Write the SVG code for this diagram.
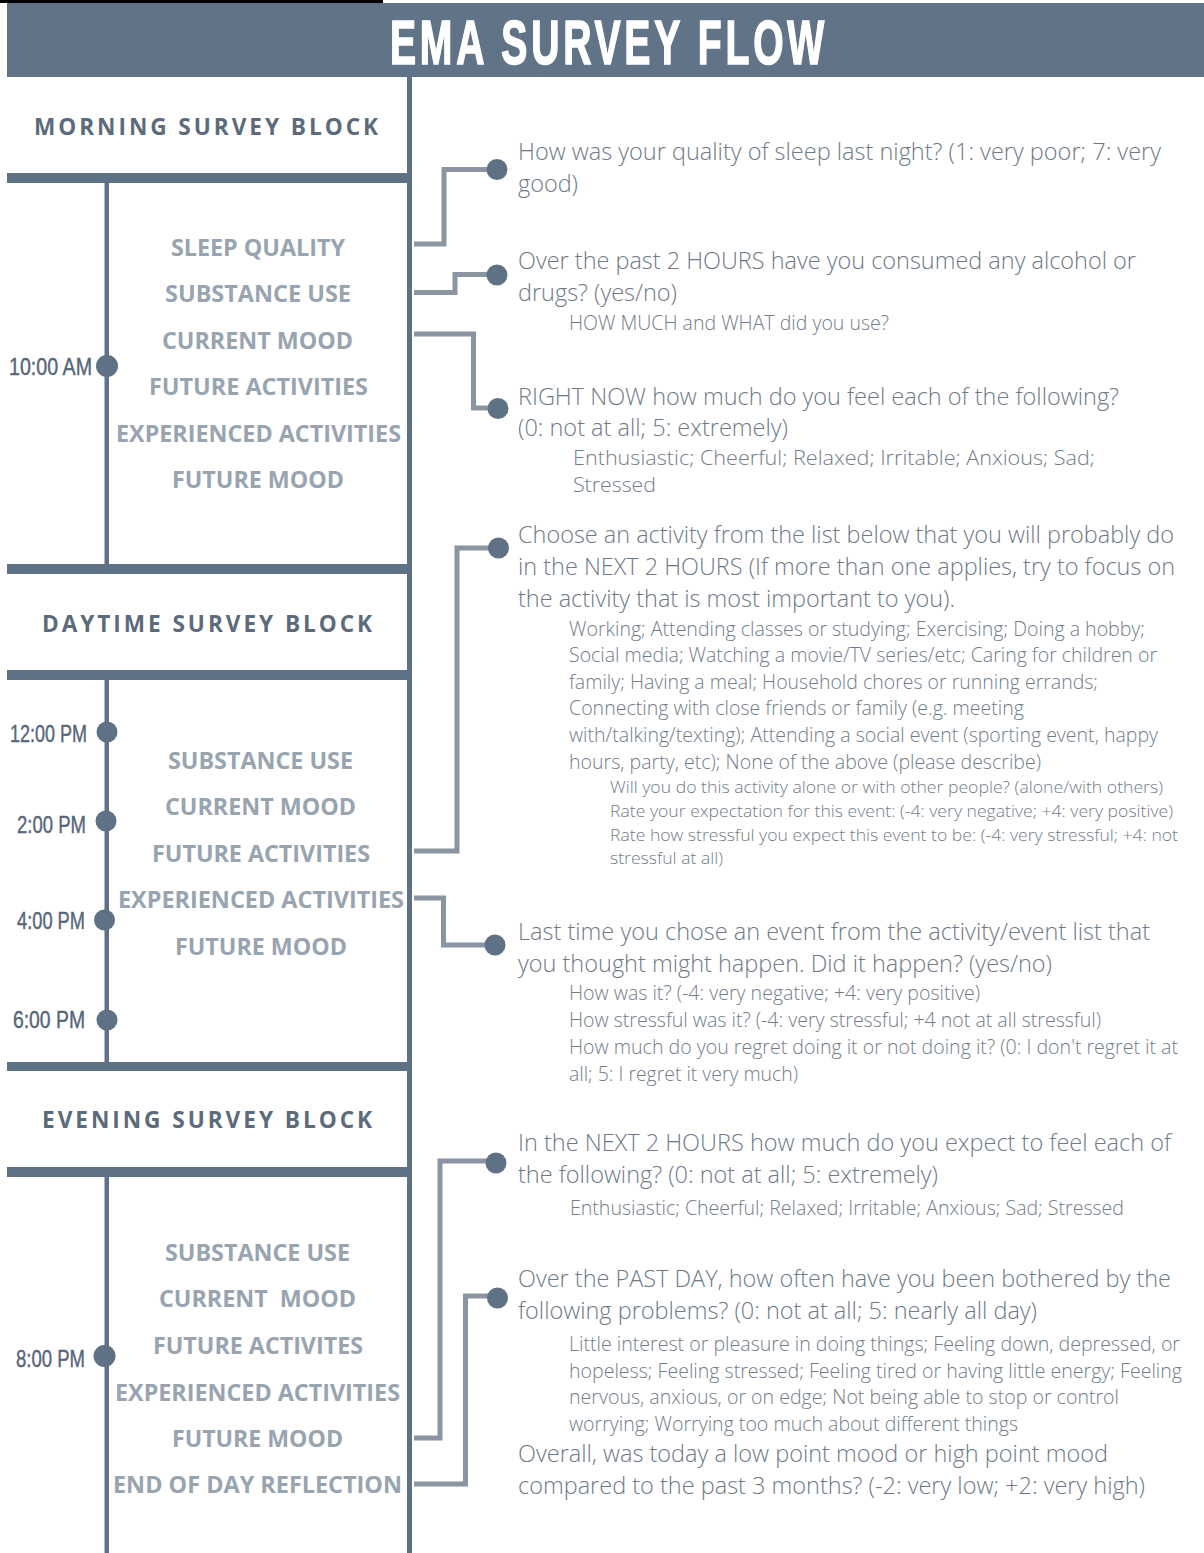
<svg xmlns="http://www.w3.org/2000/svg" width="1204" height="1553" viewBox="0 0 1204 1553">
<style>
.bar{fill:#5f7184}
.dot{fill:#5f7184}
.conn{fill:none;stroke:#8a95a1;stroke-width:5;stroke-linejoin:miter;stroke-linecap:butt}
.title{font-family:"Liberation Sans Narrow","Liberation Sans",sans-serif;font-weight:700;font-size:63px;fill:#ffffff;stroke:#ffffff;stroke-width:1.6px;letter-spacing:6px}
.blk{font-family:"Open Sans","Liberation Sans",sans-serif;font-weight:700;font-size:23px;fill:#5c6b7b;letter-spacing:3px}
.item{font-family:"Open Sans","Liberation Sans",sans-serif;font-weight:700;font-size:24px;fill:#98a4af}
.time{font-family:"Liberation Sans Narrow","Liberation Sans",sans-serif;font-size:24px;fill:#56667a;stroke:#56667a;stroke-width:0.4px}
.q{font-family:"Open Sans","Liberation Sans",sans-serif;font-weight:300;font-size:24px;fill:#6e7a86}
.s{font-family:"Open Sans","Liberation Sans",sans-serif;font-weight:300;font-size:20px;fill:#717d89}
.t{font-family:"Open Sans","Liberation Sans",sans-serif;font-weight:300;font-size:17px;fill:#717d89}
</style>
<rect width="1204" height="1553" fill="#ffffff"/>
<g id="header">
<rect x="0" y="0" width="383" height="3" fill="#000000"/>
<rect x="7" y="3" width="1197" height="74" fill="#617386"/>
<text class="title" x="390" y="64" textLength="438" lengthAdjust="spacingAndGlyphs">EMA SURVEY FLOW</text>
</g>
<g id="frame">
<rect class="bar" x="407" y="77" width="5" height="1476"/>
<rect class="bar" x="7" y="173" width="402" height="10"/>
<rect class="bar" x="7" y="564" width="402" height="10"/>
<rect class="bar" x="7" y="670" width="402" height="10"/>
<rect class="bar" x="7" y="1062" width="402" height="9"/>
<rect class="bar" x="7" y="1167" width="402" height="10"/>
<rect class="bar" x="104.5" y="183" width="4.5" height="381"/>
<rect class="bar" x="104.5" y="680" width="4.5" height="382"/>
<rect class="bar" x="104.5" y="1177" width="4.5" height="376"/>
</g>
<g id="block-morning">
<text class="blk" x="34" y="135" textLength="347" lengthAdjust="spacingAndGlyphs">MORNING SURVEY BLOCK</text>
<text class="item" x="171" y="256" textLength="174" lengthAdjust="spacingAndGlyphs">SLEEP QUALITY</text>
<text class="item" x="165" y="302" textLength="186" lengthAdjust="spacingAndGlyphs">SUBSTANCE USE</text>
<text class="item" x="162" y="349" textLength="191" lengthAdjust="spacingAndGlyphs">CURRENT MOOD</text>
<text class="item" x="149" y="395" textLength="219" lengthAdjust="spacingAndGlyphs">FUTURE ACTIVITIES</text>
<text class="item" x="116" y="442" textLength="285" lengthAdjust="spacingAndGlyphs">EXPERIENCED ACTIVITIES</text>
<text class="item" x="172" y="488" textLength="172" lengthAdjust="spacingAndGlyphs">FUTURE MOOD</text>
</g>
<g id="time-1000am">
<circle class="dot" cx="107" cy="366" r="11"/>
<text class="time" x="9" y="375" textLength="83" lengthAdjust="spacingAndGlyphs">10:00 AM</text>
</g>
<g id="block-daytime">
<text class="blk" x="42" y="632" textLength="333" lengthAdjust="spacingAndGlyphs">DAYTIME SURVEY BLOCK</text>
<text class="item" x="168" y="769" textLength="185" lengthAdjust="spacingAndGlyphs">SUBSTANCE USE</text>
<text class="item" x="165" y="815" textLength="191" lengthAdjust="spacingAndGlyphs">CURRENT MOOD</text>
<text class="item" x="152" y="862" textLength="218" lengthAdjust="spacingAndGlyphs">FUTURE ACTIVITIES</text>
<text class="item" x="118" y="908" textLength="286" lengthAdjust="spacingAndGlyphs">EXPERIENCED ACTIVITIES</text>
<text class="item" x="175" y="955" textLength="172" lengthAdjust="spacingAndGlyphs">FUTURE MOOD</text>
</g>
<g id="time-1200pm">
<circle class="dot" cx="107" cy="732" r="10.5"/>
<text class="time" x="10" y="742" textLength="77" lengthAdjust="spacingAndGlyphs">12:00 PM</text>
</g>
<g id="time-200pm">
<circle class="dot" cx="106" cy="821" r="10.5"/>
<text class="time" x="17" y="833" textLength="69" lengthAdjust="spacingAndGlyphs">2:00 PM</text>
</g>
<g id="time-400pm">
<circle class="dot" cx="104.5" cy="920" r="10.5"/>
<text class="time" x="17" y="929" textLength="68" lengthAdjust="spacingAndGlyphs">4:00 PM</text>
</g>
<g id="time-600pm">
<circle class="dot" cx="107" cy="1020" r="10.5"/>
<text class="time" x="13" y="1028" textLength="72" lengthAdjust="spacingAndGlyphs">6:00 PM</text>
</g>
<g id="block-evening">
<text class="blk" x="42" y="1128" textLength="333" lengthAdjust="spacingAndGlyphs">EVENING SURVEY BLOCK</text>
<text class="item" x="165" y="1261" textLength="185" lengthAdjust="spacingAndGlyphs">SUBSTANCE USE</text>
<text class="item" x="159" y="1307" textLength="197" lengthAdjust="spacingAndGlyphs" xml:space="preserve">CURRENT  MOOD</text>
<text class="item" x="153" y="1354" textLength="210" lengthAdjust="spacingAndGlyphs">FUTURE ACTIVITES</text>
<text class="item" x="115" y="1401" textLength="285" lengthAdjust="spacingAndGlyphs">EXPERIENCED ACTIVITIES</text>
<text class="item" x="172" y="1447" textLength="171" lengthAdjust="spacingAndGlyphs">FUTURE MOOD</text>
<text class="item" x="113" y="1493" textLength="289" lengthAdjust="spacingAndGlyphs">END OF DAY REFLECTION</text>
</g>
<g id="time-800pm">
<circle class="dot" cx="104.5" cy="1356" r="11"/>
<text class="time" x="16" y="1367" textLength="69" lengthAdjust="spacingAndGlyphs">8:00 PM</text>
</g>
<g id="connectors">
<path class="conn" d="M414,244 H444 V169.5 H497"/>
<path class="conn" d="M414,292.5 H455 V274.5 H497"/>
<path class="conn" d="M414,334 H473.5 V408 H497"/>
<path class="conn" d="M414,851 H457 V548 H498"/>
<path class="conn" d="M414,898 H443.5 V945 H495"/>
<path class="conn" d="M414,1438 H440 V1161 H496"/>
<path class="conn" d="M414,1484 H465.5 V1296 H497"/>
</g>
<g id="q-sleep">
<circle class="dot" cx="497" cy="169.5" r="10.5"/>
<text class="q" x="518" y="160" textLength="643" lengthAdjust="spacingAndGlyphs">How was your quality of sleep last night? (1: very poor; 7: very</text>
<text class="q" x="518" y="192" textLength="60" lengthAdjust="spacingAndGlyphs">good)</text>
</g>
<g id="q-substance">
<circle class="dot" cx="497" cy="275" r="10.5"/>
<text class="q" x="518" y="269" textLength="618" lengthAdjust="spacingAndGlyphs">Over the past 2 HOURS have you consumed any alcohol or</text>
<text class="q" x="518" y="301" textLength="159" lengthAdjust="spacingAndGlyphs">drugs? (yes/no)</text>
<text class="s" x="569" y="330" font-size="19" textLength="320" lengthAdjust="spacingAndGlyphs">HOW MUCH and WHAT did you use?</text>
</g>
<g id="q-mood">
<circle class="dot" cx="498" cy="408.5" r="10.5"/>
<text class="q" x="518" y="405" textLength="601" lengthAdjust="spacingAndGlyphs">RIGHT NOW how much do you feel each of the following?</text>
<text class="q" x="518" y="436" textLength="270" lengthAdjust="spacingAndGlyphs">(0: not at all; 5: extremely)</text>
<text class="s" x="573" y="465" textLength="522" lengthAdjust="spacingAndGlyphs">Enthusiastic; Cheerful; Relaxed; Irritable; Anxious; Sad;</text>
<text class="s" x="573" y="492" textLength="83" lengthAdjust="spacingAndGlyphs">Stressed</text>
</g>
<g id="q-future-activity">
<circle class="dot" cx="498.5" cy="548" r="10.5"/>
<text class="q" x="518" y="543" textLength="656" lengthAdjust="spacingAndGlyphs">Choose an activity from the list below that you will probably do</text>
<text class="q" x="518" y="575" textLength="657" lengthAdjust="spacingAndGlyphs">in the NEXT 2 HOURS (If more than one applies, try to focus on</text>
<text class="q" x="518" y="607" textLength="437" lengthAdjust="spacingAndGlyphs">the activity that is most important to you).</text>
<text class="s" x="569" y="636" textLength="576" lengthAdjust="spacingAndGlyphs">Working; Attending classes or studying; Exercising; Doing a hobby;</text>
<text class="s" x="569" y="662" textLength="588" lengthAdjust="spacingAndGlyphs">Social media; Watching a movie/TV series/etc; Caring for children or</text>
<text class="s" x="569" y="689" textLength="529" lengthAdjust="spacingAndGlyphs">family; Having a meal; Household chores or running errands;</text>
<text class="s" x="569" y="715" textLength="455" lengthAdjust="spacingAndGlyphs">Connecting with close friends or family (e.g. meeting</text>
<text class="s" x="569" y="742" textLength="589" lengthAdjust="spacingAndGlyphs">with/talking/texting); Attending a social event (sporting event, happy</text>
<text class="s" x="569" y="769" textLength="472" lengthAdjust="spacingAndGlyphs">hours, party, etc); None of the above (please describe)</text>
<text class="t" x="610" y="793" textLength="553" lengthAdjust="spacingAndGlyphs">Will you do this activity alone or with other people? (alone/with others)</text>
<text class="t" x="610" y="817" textLength="563" lengthAdjust="spacingAndGlyphs">Rate your expectation for this event: (-4: very negative; +4: very positive)</text>
<text class="t" x="610" y="841" textLength="568" lengthAdjust="spacingAndGlyphs">Rate how stressful you expect this event to be: (-4: very stressful; +4: not</text>
<text class="t" x="610" y="864" textLength="113" lengthAdjust="spacingAndGlyphs">stressful at all)</text>
</g>
<g id="q-experienced">
<circle class="dot" cx="495" cy="945" r="10.5"/>
<text class="q" x="518" y="940" textLength="632" lengthAdjust="spacingAndGlyphs">Last time you chose an event from the activity/event list that</text>
<text class="q" x="518" y="972" textLength="534" lengthAdjust="spacingAndGlyphs">you thought might happen. Did it happen? (yes/no)</text>
<text class="s" x="569" y="1000" textLength="411" lengthAdjust="spacingAndGlyphs">How was it? (-4: very negative; +4: very positive)</text>
<text class="s" x="569" y="1027" textLength="532" lengthAdjust="spacingAndGlyphs">How stressful was it? (-4: very stressful; +4 not at all stressful)</text>
<text class="s" x="569" y="1054" textLength="609" lengthAdjust="spacingAndGlyphs">How much do you regret doing it or not doing it? (0: I don't regret it at</text>
<text class="s" x="569" y="1081" textLength="229" lengthAdjust="spacingAndGlyphs">all; 5: I regret it very much)</text>
</g>
<g id="q-future-mood">
<circle class="dot" cx="496" cy="1163" r="10.5"/>
<text class="q" x="518" y="1151" textLength="653" lengthAdjust="spacingAndGlyphs">In the NEXT 2 HOURS how much do you expect to feel each of</text>
<text class="q" x="518" y="1183" textLength="420" lengthAdjust="spacingAndGlyphs">the following? (0: not at all; 5: extremely)</text>
<text class="s" x="570" y="1215" textLength="554" lengthAdjust="spacingAndGlyphs">Enthusiastic; Cheerful; Relaxed; Irritable; Anxious; Sad; Stressed</text>
</g>
<g id="q-end-of-day">
<circle class="dot" cx="497.5" cy="1298" r="10.5"/>
<text class="q" x="518" y="1287" textLength="653" lengthAdjust="spacingAndGlyphs">Over the PAST DAY, how often have you been bothered by the</text>
<text class="q" x="518" y="1319" textLength="519" lengthAdjust="spacingAndGlyphs">following problems? (0: not at all; 5: nearly all day)</text>
<text class="s" x="569" y="1351" textLength="611" lengthAdjust="spacingAndGlyphs">Little interest or pleasure in doing things; Feeling down, depressed, or</text>
<text class="s" x="569" y="1378" textLength="613" lengthAdjust="spacingAndGlyphs">hopeless; Feeling stressed; Feeling tired or having little energy; Feeling</text>
<text class="s" x="569" y="1404" textLength="550" lengthAdjust="spacingAndGlyphs">nervous, anxious, or on edge; Not being able to stop or control</text>
<text class="s" x="569" y="1431" textLength="449" lengthAdjust="spacingAndGlyphs">worrying; Worrying too much about different things</text>
<text class="q" x="518" y="1462" textLength="590" lengthAdjust="spacingAndGlyphs">Overall, was today a low point mood or high point mood</text>
<text class="q" x="518" y="1494" textLength="627" lengthAdjust="spacingAndGlyphs">compared to the past 3 months? (-2: very low; +2: very high)</text>
</g>
</svg>
